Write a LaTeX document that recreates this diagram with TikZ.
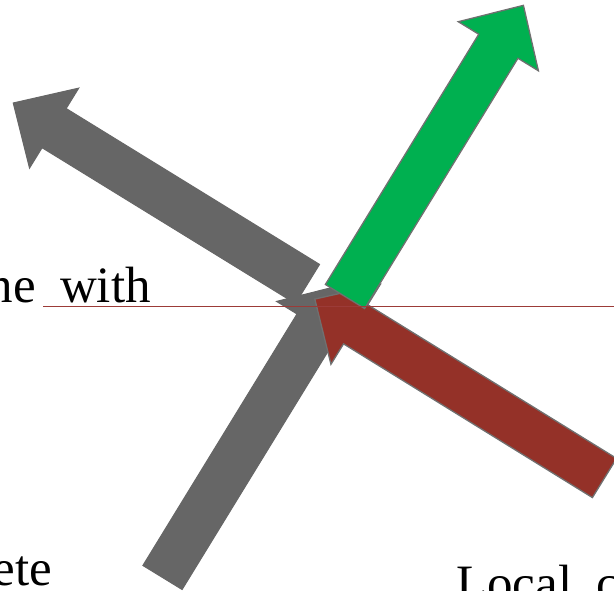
\documentclass[tikz,border=0pt]{standalone}
\usepackage{fontspec}
\setmainfont{Liberation Serif}
\definecolor{arrgray}{HTML}{666666}
\definecolor{edgegray}{HTML}{707070}
\definecolor{arrgreen}{HTML}{00B050}
\definecolor{arrred}{HTML}{943128}
\definecolor{linered}{HTML}{9C3B38}
\newcommand\myblockarrow[5]{%
  \begin{scope}[shift={(#1,#2)},rotate=#3]
    \pgfmathsetmacro\hb{#4-48}
    \draw[#5] (0,-23) -- (\hb,-23) -- (\hb,-47) -- (#4,0) -- (\hb,47) -- (\hb,23) -- (0,23) -- cycle;
  \end{scope}}
\tikzset{
  grayarrow/.style={fill=arrgray,draw=arrgray,line width=1pt,line join=miter},
  greenarrow/.style={fill=arrgreen,draw=edgegray,line width=1.3pt,line join=miter},
  redarrow/.style={fill=arrred,draw=edgegray,line width=1.3pt,line join=miter},
  hline/.style={draw=linered,line width=1.6pt},
  lbl/.style={inner sep=0pt,font=\fontsize{51}{60}\selectfont,text=black}
}
\begin{document}
\begin{tikzpicture}[x=1pt,y=-1pt]
\useasboundingbox (0,0) rectangle (614,591);
\clip (0,0) rectangle (614,591);
% arrows
\myblockarrow{162.5}{577.5}{58.5}{343}{grayarrow}
\myblockarrow{307.5}{284}{148.4}{345.5}{grayarrow}
\myblockarrow{604.5}{478}{148.3}{340.5}{redarrow}
\myblockarrow{345}{296.5}{58.5}{341.5}{greenarrow}
% horizontal line
\coordinate (l1) at (43,306.5);
\coordinate (l2) at (614,306.5);
\draw[hline] (l1) -- (l2);
% texts
\node[lbl,anchor=base east] (t1) at (151,302) {ne\hspace{24pt}with};
\node[lbl,anchor=base east] (t2) at (52,585) {ete};
\node[lbl,anchor=base west] (t3) at (456,600) {Local\hspace{24pt}c};
\end{tikzpicture}
\end{document}
